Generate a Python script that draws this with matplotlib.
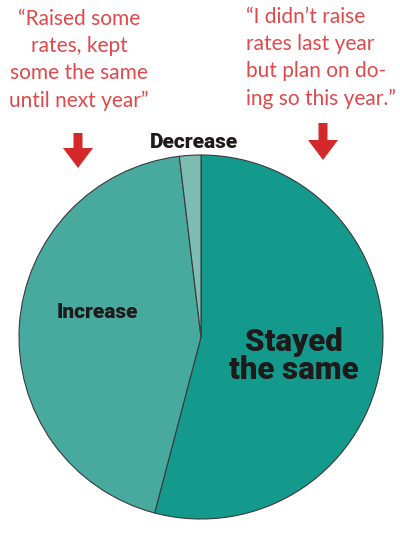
import matplotlib.pyplot as plt
from matplotlib.patches import FancyArrow

# pie data (share of respondents, %)
categories = ['Stayed\nthe same', 'Increase', 'Decrease']
shares = [54.1, 44.0, 1.9]
colors = ['#139a8d', '#48a99f', '#7dbdb4']

left_quote = '\u201cRaised some\nrates, kept\nsome the same\nuntil next year\u201d'
right_quote = '\u201cI didn\u2019t raise\nrates last year\nbut plan on do-\ning so this year.\u201d'

W, H = 400, 536
fig = plt.figure(figsize=(W / 100, H / 100), dpi=100)
ax = fig.add_axes([0, 0, 1, 1])
ax.set_xlim(0, W)
ax.set_ylim(0, H)
ax.set_aspect('equal')
ax.axis('off')

# pixel y -> data y
def py(y):
    return H - y

ax.pie(shares, colors=colors, startangle=90, counterclock=False,
       center=(201, py(337)), radius=182,
       wedgeprops=dict(edgecolor='#3a3a3a', linewidth=0.8))
ax.set_xlim(0, W)
ax.set_ylim(0, H)

bold = dict(family=['Roboto', 'DejaVu Sans'], weight='black',
            color='#1f1a1a', ha='center', va='center')
ax.text(294, py(356), categories[0], fontsize=22.5, linespacing=0.95, **bold)
ax.text(97, py(312), categories[1], fontsize=15, **bold)
ax.text(194, py(143), categories[2], fontsize=15, **bold)

red_txt = '#e0484b'
ax.text(79, py(60), left_quote, fontsize=15, color=red_txt, ha='center',
        va='center', linespacing=1.45, family=['Lato', 'DejaVu Sans'])
ax.text(246, py(58), right_quote, fontsize=15, color=red_txt, ha='left',
        va='center', linespacing=1.45, family=['Lato', 'DejaVu Sans'])

# red down arrows
arrow_red = '#d4282a'
for x, top, bottom in [(78, 133, 168), (323, 123, 160)]:
    ax.add_patch(FancyArrow(x, py(top), 0, -(bottom - top), width=9,
                            head_width=30, head_length=20,
                            length_includes_head=True, color=arrow_red,
                            linewidth=0))

fig.savefig('out.png', dpi=100)
